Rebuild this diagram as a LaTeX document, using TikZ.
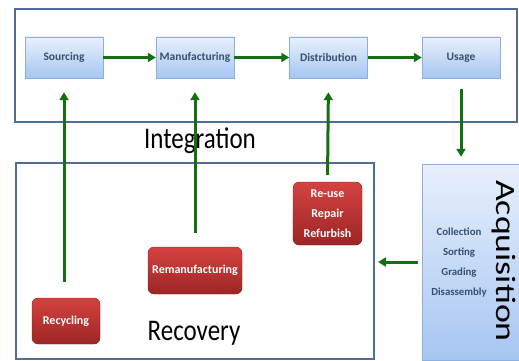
\documentclass[tikz,border=0pt]{standalone}
\usepackage{fontspec}
\setmainfont{Carlito}
\usetikzlibrary{arrows.meta, positioning}

\definecolor{frameblue}{RGB}{79,109,152}
\definecolor{boxtop}{RGB}{232,240,252}
\definecolor{boxbot}{RGB}{166,198,242}
\definecolor{boxline}{RGB}{140,175,225}
\definecolor{boxtext}{RGB}{55,80,115}
\definecolor{redtop}{RGB}{212,66,64}
\definecolor{redbot}{RGB}{156,38,38}
\definecolor{flowgreen}{RGB}{18,112,18}

\begin{document}
\begin{tikzpicture}[x=1pt, y=-1pt,
        panel/.style={rectangle, draw=frameblue, line width=2pt, inner sep=0pt},
        stage/.style={rectangle, draw=boxline, top color=boxtop, bottom color=boxbot,
            minimum width=78pt, minimum height=41pt, inner sep=0pt, text=boxtext,
            font=\bfseries\fontsize{11.5}{12}\selectfont},
        option/.style={rectangle, rounded corners=6pt, draw=redbot!85!black, top color=redtop,
            bottom color=redbot, inner sep=0pt, text=white, align=center,
            font=\bfseries\fontsize{12}{20}\selectfont},
        bigtext/.style={font=\fontsize{25}{30}\selectfont},
        flow/.style={draw=flowgreen, line width=3pt, -{Triangle[length=8pt,width=9pt]}}
    ]
        \useasboundingbox (0,0) rectangle (519,361);

        % Rahmen
        \node[panel, minimum width=502pt, minimum height=113pt] (integrationbox) at (266,65.5) {};
        \node[panel, minimum width=358pt, minimum height=196pt] (recoverybox) at (195,261) {};
        \node[bigtext] (integration) at (200,141) {\scalebox{1}[1.2]{Integration}};
        \node[bigtext] (recovery) at (194,333) {\scalebox{1}[1.2]{Recovery}};

        % Kette oben
        \node[stage] (sourcing) at (64,57.5) {Sourcing};
        \node[stage] (manufacturing) at (195,57.5) {Manufacturing};
        \node[stage] (distribution) at (328.5,57.5) {Distribution};
        \node[stage] (usage) at (461,57.5) {Usage};

        % Rueckfuehrung
        \node[option, minimum width=68pt, minimum height=46pt] (recycling) at (66,321) {Recycling};
        \node[option, minimum width=94pt, minimum height=47pt] (remanufacturing) at (195,270.5) {Remanufacturing};
        \node[option, minimum width=69pt, minimum height=63pt] (reuse) at (327.5,213.5) {Re-use\\Repair\\Refurbish};

        % Acquisition
        \node[rectangle, draw=boxline, top color=boxtop, bottom color=boxbot,
            minimum width=103pt, minimum height=196pt, inner sep=0pt] (acquisition) at (473.5,262) {};
        \node[text=boxtext, align=center, font=\bfseries\fontsize{10.8}{20}\selectfont] (steps) at (459,263)
            {Collection\\Sorting\\Grading\\Disassembly};
        \node[rotate=-90, inner sep=1pt, font=\fontsize{28}{32}\selectfont] (acqlabel) at (504,261) {\scalebox{1.28}[1]{Acquisition}};

        % Pfeile
        \draw[flow] (sourcing.east) -- (manufacturing.west);
        \draw[flow] (manufacturing.east) -- (distribution.west);
        \draw[flow] (distribution.east) -- (usage.west);
        \draw[flow, shorten <=16pt, shorten >=14pt] (recycling.north -| sourcing.south) -- (sourcing.south);
        \draw[flow, shorten <=14pt, shorten >=14pt] (remanufacturing.north) -- (manufacturing.south);
        \draw[flow, shorten <=7pt, shorten >=14pt] (reuse.north) -- (distribution.south);
        \draw[flow, shorten <=11pt, shorten >=7pt] (usage.south) -- (usage.south |- acquisition.north);
        \draw[flow, shorten <=4pt, shorten >=3pt] (acquisition.west) -- (acquisition.west -| recoverybox.east);
    \end{tikzpicture}
\end{document}
